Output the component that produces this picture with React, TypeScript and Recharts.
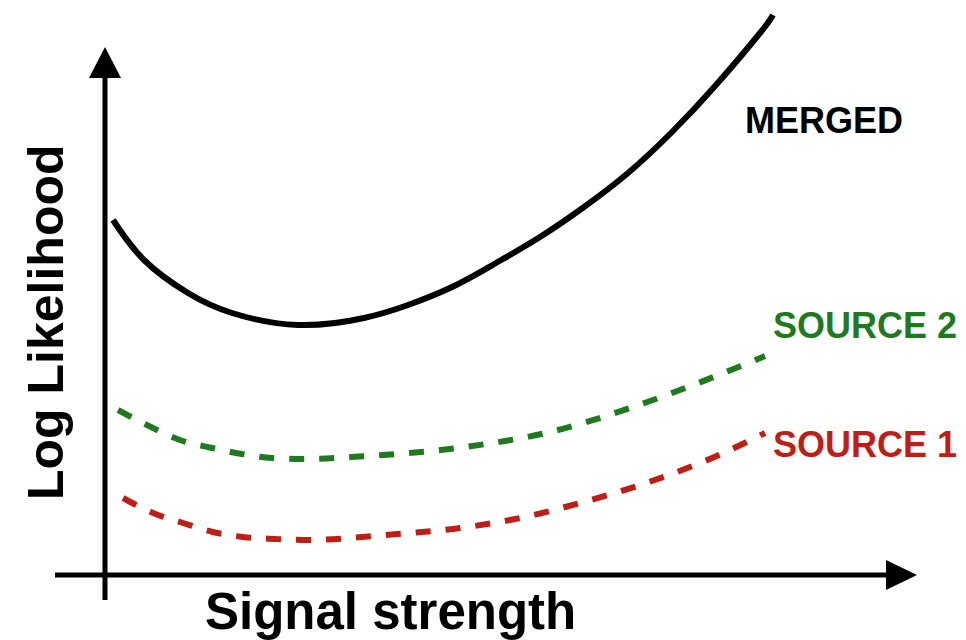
import React from 'react';
import { LineChart, Line, XAxis, YAxis, ReferenceLine, ReferenceDot } from 'recharts';

// Signal strength (x) and log likelihood (y), arbitrary units
const mergedSignal = [0.08, 0.39, 0.83, 1.27, 1.93, 2.59, 3.03, 3.47, 3.91, 4.35, 4.79, 5.23, 5.67, 6.11, 6.55, 6.68];
const mergedLogLik = [3.55, 3.15, 2.82, 2.62, 2.5, 2.57, 2.7, 2.88, 3.12, 3.38, 3.68, 4.02, 4.43, 4.9, 5.42, 5.6];

const source2Signal = [0.13, 0.48, 0.75, 1.07, 1.37, 1.67, 1.98, 2.62, 3.52, 4.45, 5.28, 5.88, 6.48, 6.6];
const source2LogLik = [1.65, 1.47, 1.35, 1.27, 1.21, 1.17, 1.16, 1.19, 1.27, 1.43, 1.68, 1.9, 2.14, 2.19];

const source1Signal = [0.18, 0.48, 0.78, 1.08, 1.38, 1.7, 2.0, 2.92, 3.55, 4.15, 4.75, 5.35, 5.95, 6.5, 6.6];
const source1LogLik = [0.77, 0.62, 0.52, 0.43, 0.38, 0.36, 0.35, 0.41, 0.47, 0.57, 0.72, 0.9, 1.12, 1.37, 1.42];

const seriesNames = ['MERGED', 'SOURCE 2', 'SOURCE 1'];
const axisTitles = ['Signal strength', 'Log Likelihood'];

const xDomain = [-0.5, 8.13];
const yDomain = [-0.25, 5.65];

const zip = (xs: number[], ys: number[]) => xs.map((x, i) => ({ x, y: ys[i] }));
const mergedData = zip(mergedSignal, mergedLogLik);
const source2Data = zip(source2Signal, source2LogLik);
const source1Data = zip(source1Signal, source1LogLik);

const GREEN = '#1f7a1f';
const RED = '#bf1e16';
const FONT = '"Liberation Sans", Arial, Helvetica, sans-serif';

const UpArrow = (props: any) => {
  const { cx, cy } = props;
  return <polygon points={`${cx},${cy} ${cx - 16},${cy + 31} ${cx + 16},${cy + 31}`} fill="#000" />;
};
const RightArrow = (props: any) => {
  const { cx, cy } = props;
  return <polygon points={`${cx},${cy} ${cx - 31},${cy - 15} ${cx - 31},${cy + 15}`} fill="#000" />;
};

export default function App() {
  return (
    <div style={{ position: 'absolute', left: 0, top: 0, width: 966, height: 640, background: '#fff' }}>
      <LineChart width={966} height={640} margin={{ top: 10, right: 48, bottom: 40, left: 55 }}>
        <XAxis type="number" dataKey="x" domain={xDomain} hide allowDataOverflow />
        <YAxis type="number" dataKey="y" domain={yDomain} hide allowDataOverflow />
        <ReferenceLine segment={[{ x: -0.5, y: 0 }, { x: 7.95, y: 0 }]} stroke="#000" strokeWidth={5} />
        <ReferenceLine segment={[{ x: 0, y: -0.25 }, { x: 0, y: 5.0 }]} stroke="#000" strokeWidth={5} />
        <ReferenceDot x={8.12} y={0} r={1} shape={RightArrow} />
        <ReferenceDot x={0} y={5.28} r={1} shape={UpArrow} />
        <Line data={mergedData} dataKey="y" type="natural" stroke="#000" strokeWidth={6} dot={false} isAnimationActive={false} name={seriesNames[0]} />
        <Line data={source2Data} dataKey="y" type="monotone" stroke={GREEN} strokeWidth={6} strokeDasharray="15 15" dot={false} isAnimationActive={false} name={seriesNames[1]} />
        <Line data={source1Data} dataKey="y" type="monotone" stroke={RED} strokeWidth={6} strokeDasharray="15 15" dot={false} isAnimationActive={false} name={seriesNames[2]} />
      </LineChart>
      <svg width={966} height={640} style={{ position: 'absolute', left: 0, top: 0, pointerEvents: 'none' }}>
        <g fontFamily={FONT} fontWeight="bold">
          <text x={745} y={133} fontSize={36} fill="#000">{seriesNames[0]}</text>
          <text x={773} y={338} fontSize={36} fill={GREEN}>{seriesNames[1]}</text>
          <text x={773} y={457} fontSize={36} fill={RED}>{seriesNames[2]}</text>
          <text x={205} y={629} fontSize={51} fill="#000">{axisTitles[0]}</text>
          <text x={63} y={500} fontSize={50} fill="#000" transform="rotate(-90, 63, 500)">{axisTitles[1]}</text>
        </g>
      </svg>
    </div>
  );
}
